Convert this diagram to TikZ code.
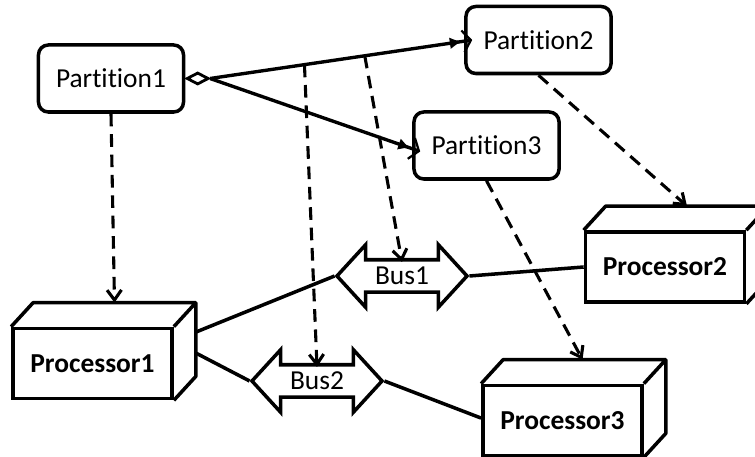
\documentclass[tikz,border=0pt]{standalone}
\usepackage{fontspec}
\setmainfont{Carlito}[Ligatures=NoCommon]
\usetikzlibrary{arrows.meta,positioning,shapes.geometric,shapes.arrows}
\tikzset{
    partition/.style={rectangle, rounded corners=7pt, draw, line width=2.5pt,
        minimum width=3.625cm, minimum height=1.675cm,
        font=\fontsize{19.5}{23}\selectfont},
    processor/.style={rectangle, draw, line width=2.6pt,
        minimum width=3.975cm, minimum height=1.75cm,
        font=\fontsize{19.5}{23}\selectfont\bfseries},
    bus/.style={double arrow, draw, line width=2.5pt,
        double arrow head extend=0.375cm, double arrow tip angle=95,
        minimum height=3.25cm, inner ysep=4.3pt, text height=12pt,
        text depth=0pt, font=\fontsize{19.5}{23}\selectfont},
    assoc/.style={-{Latex[length=3mm,width=3mm]Straight Barb[length=2mm,width=5.5mm,line width=1.6pt]},
        line width=2.4pt},
    deploy/.style={-{Straight Barb[length=2.5mm,width=3.6mm]},
        dash pattern=on 9pt off 5.5pt, line width=2.2pt},
    link/.style={line width=2.5pt}
}

\begin{document}
\begin{tikzpicture}[x=0.025cm, y=-0.025cm]
    \useasboundingbox (0,0) rectangle (755,457);
    \node[partition] (part1) at (111,78.5) {Partition1};
    \node[partition] (part2) at (538.5,40) {Partition2};
    \node[partition] (part3) at (486.5,145.5) {Partition3};
    \node[processor] (proc1) at (92.5,363.5) {Processor1};
    \node[processor] (proc2) at (665,267) {Processor2};
    \node[processor] (proc3) at (562.5,420.5) {Processor3};
    \node[bus] (bus1) at (402,276) {Bus1};
    \node[bus] (bus2) at (317,381) {Bus2};
    \node[diamond, draw, fill=white, line width=2pt, inner sep=0pt, minimum width=0.55cm,
        minimum height=0.3cm, anchor=west] (agg) at (part1.east) {};
    \foreach \p in {proc1,proc2,proc3}
        \draw[link, line join=round] (\p.north west) -- ++(22,-24) -| ([shift={(22,-24)}]\p.south east)
            -- (\p.south east) (\p.north east) -- ++(22,-24);
    \draw[assoc] (agg.east) -- ([xshift=0.2cm,yshift=-0.15cm]part3.west);
    \draw[assoc] (agg.east) -- coordinate[pos=0.36] (m1) coordinate[pos=0.59] (m2) ([xshift=0.2cm]part2.west);
    \draw[deploy] (part1.south) -- ([shift={(22,-24)}]proc1.north);
    \draw[deploy] (part2.south) -- ([shift={(22,-24)}]proc2.north);
    \draw[deploy] (part3.south) -- ([shift={(20,-24)}]proc3.north);
    \draw[deploy] (m2) -- ([yshift=0.35cm]bus1.center);
    \draw[deploy] (m1) -- ([yshift=0.35cm]bus2.center);
    \draw[link] ([shift={(21,-31)}]proc1.east) -- (bus1.west);
    \draw[link] ([shift={(21,-11)}]proc1.east) -- (bus2.west);
    \draw[link] (bus1.east) -- (proc2.west);
    \draw[link] (bus2.east) -- ([yshift=0.06cm]proc3.west);
\end{tikzpicture}
\end{document}
